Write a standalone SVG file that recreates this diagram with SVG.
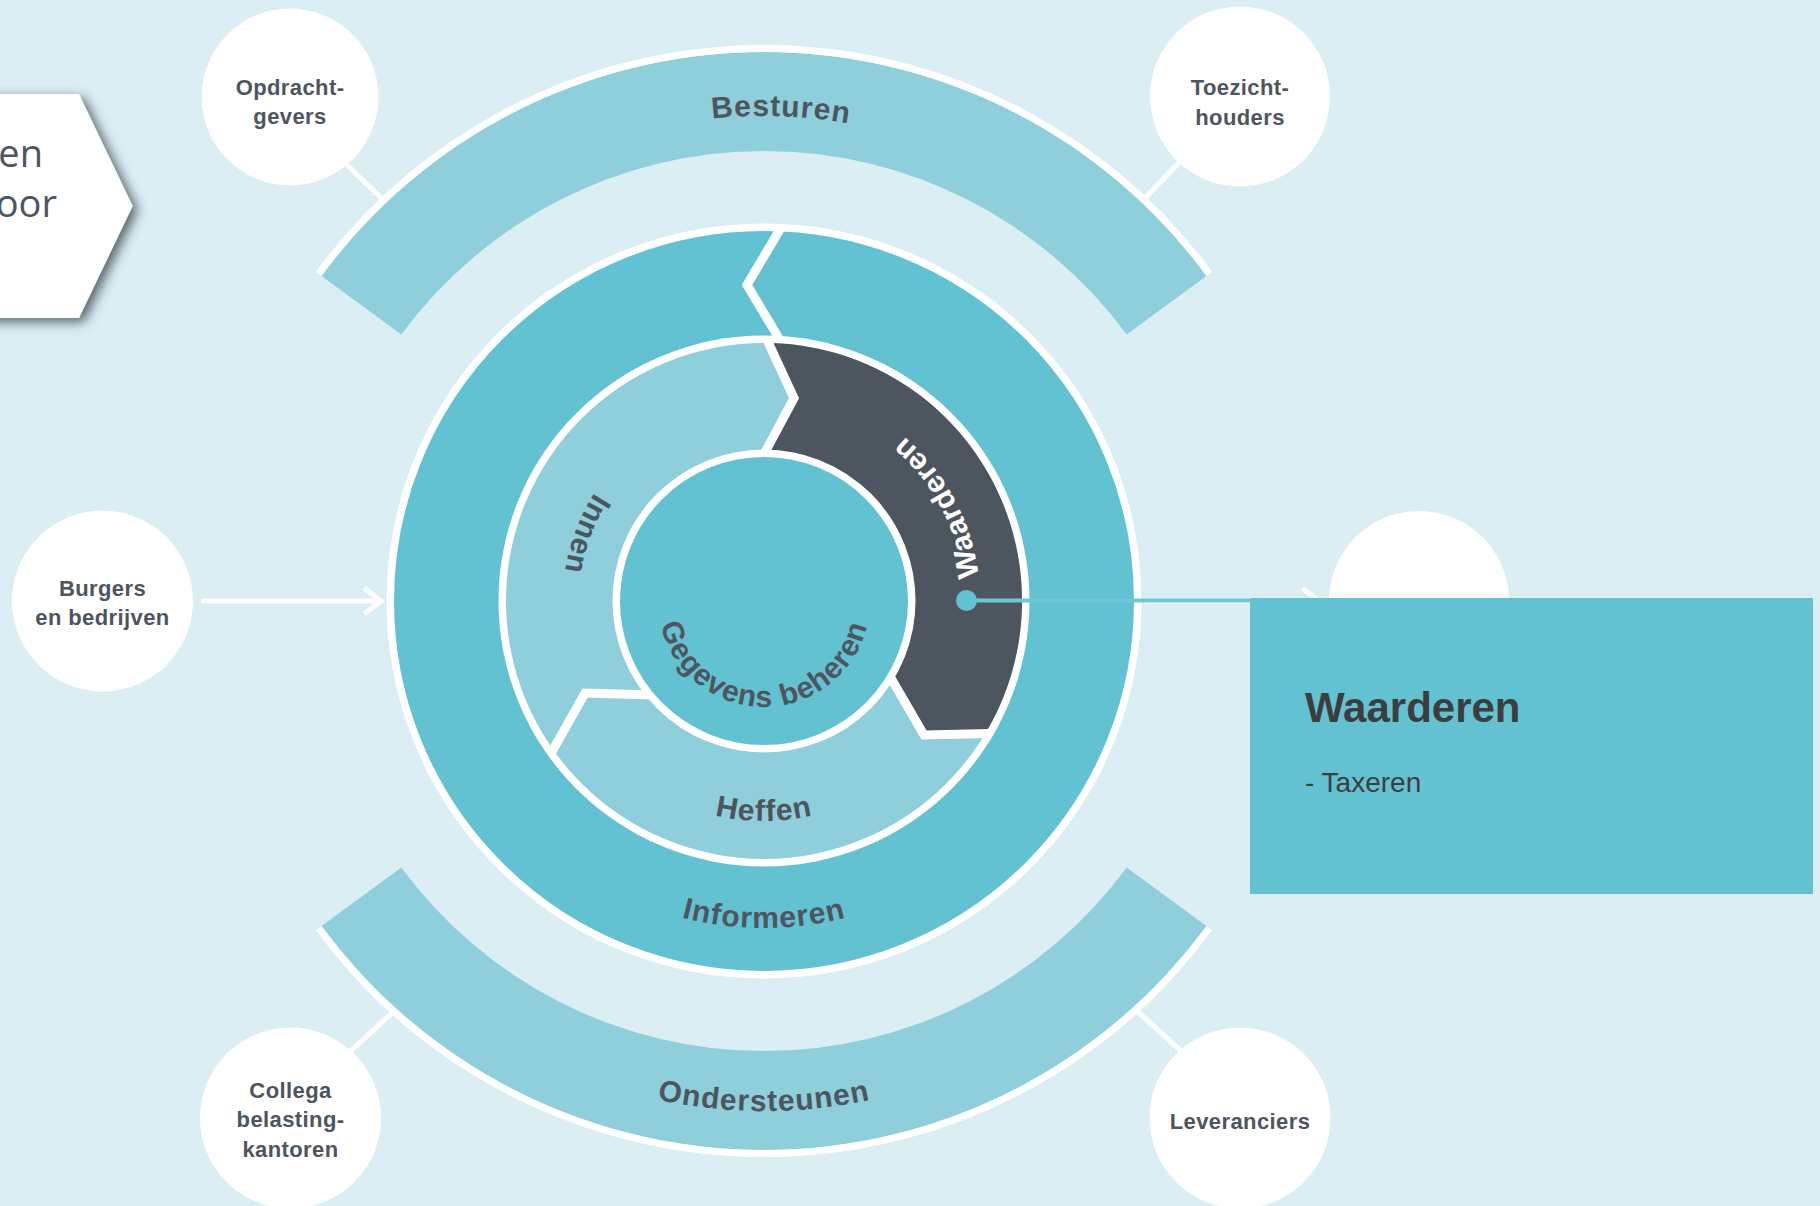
<svg xmlns="http://www.w3.org/2000/svg" width="1820" height="1206" viewBox="0 0 1820 1206">
<defs>
<style>
.bg{fill:#dbeef4}
.band{fill:#8ecfdb}
.edge{fill:none;stroke:#fff;stroke-width:7}
.conn{stroke:#fff;stroke-width:5;fill:none}
.div{fill:none;stroke:#fff;stroke-width:9;stroke-linejoin:miter}
.node circle{fill:#fff}
.node text{font-family:"Liberation Sans",Arial,sans-serif;font-weight:700;font-size:22px;fill:#4d555e;text-anchor:middle;letter-spacing:0.4px}
.lbl{font-family:"Liberation Sans",Arial,sans-serif;font-weight:700;font-size:30px;fill:#4d555e;letter-spacing:1px}
.hex{font-family:"Open Sans","Liberation Sans",sans-serif;font-size:38px;fill:#4d555e;text-anchor:end}
</style>
<filter id="shadow" x="-30%" y="-30%" width="160%" height="160%">
<feDropShadow dx="5" dy="4" stdDeviation="6" flood-color="#37424c" flood-opacity="0.8"/>
</filter>
<marker id="arrow" viewBox="0 0 26 32" refX="20" refY="16" markerWidth="26" markerHeight="32" markerUnits="userSpaceOnUse" orient="auto" overflow="visible">
<path d="M3.4 3.3 L20 16 L3.4 28.7" fill="none" stroke="#fff" stroke-width="5"/>
</marker>
<path id="pBesturen" d="M 289.6 500.2 A 485 485 0 0 1 1244.3 533.5"/>
<path id="pOnder" d="M 322.3 856 A 510 510 0 0 0 1205.7 856"/>
<path id="pInfo" d="M 480.8 764.5 A 327 327 0 0 0 1047.2 764.5"/>
<path id="pHeffen" d="M 573.5 711 A 220 220 0 0 0 954.5 711"/>
<path id="pGeg" d="M 664.4 564.7 A 106 106 0 1 0 863.6 564.7"/>
<path id="pWaard" d="M 975.4 645.2 A 216 216 0 0 0 844.2 400.4"/>
<path id="pInnen" d="M 665 426 A 201 201 0 0 0 574.5 668.1"/>
</defs>

<rect class="bg" x="0" y="0" width="1820" height="1206"/>

<g id="intro">
<polygon points="-80,94 79,94 132.7,206 79,318 -80,318" fill="#fff" filter="url(#shadow)"/>
<text class="hex" x="43" y="167">en</text>
<text class="hex" x="57" y="217">oor</text>
</g>

<g id="besturen">
<path class="band" d="M 321.6 276 A 549 549 0 0 1 1206.4 276 L 1126.7 334.6 A 450 450 0 0 0 401.3 334.6 Z"/>
<path class="edge" d="M 318.7 273.9 A 552.5 552.5 0 0 1 1209.3 273.9"/>
<text class="lbl"><textPath href="#pBesturen" startOffset="50%" text-anchor="middle">Besturen</textPath></text>
</g>

<g id="ondersteunen">
<path class="band" d="M 321.6 926 A 549 549 0 0 0 1206.4 926 L 1126.7 867.4 A 450 450 0 0 1 401.3 867.4 Z"/>
<path class="edge" d="M 318.7 928.1 A 552.5 552.5 0 0 0 1209.3 928.1"/>
<text class="lbl"><textPath href="#pOnder" startOffset="50%" text-anchor="middle">Ondersteunen</textPath></text>
</g>

<g id="informeren">
<circle cx="764" cy="601" r="373.75" fill="#63c2d1" stroke="#fff" stroke-width="7.5"/>
<polyline class="div" points="780.2,229 747,285 783,345"/>
<text class="lbl"><textPath href="#pInfo" startOffset="50%" text-anchor="middle">Informeren</textPath></text>
</g>

<g id="middle-ring">
<circle cx="764" cy="601" r="265.5" fill="#fff"/>
<circle cx="764" cy="601" r="258" fill="#8ecfdb"/>
</g>

<g id="waarderen">
<path d="M 768.4 342.9 A 258 258 0 0 1 985.3 733.5 L 924 735 L 890 676 L 762 456 L 794 398 Z" fill="#4d555e"/>
<text class="lbl" style="fill:#fff"><textPath href="#pWaard" startOffset="50%" text-anchor="middle">Waarderen</textPath></text>
</g>

<g id="innen">
<text class="lbl"><textPath href="#pInnen" startOffset="50%" text-anchor="middle">Innen</textPath></text>
</g>

<g id="heffen">
<text class="lbl"><textPath href="#pHeffen" startOffset="50%" text-anchor="middle">Heffen</textPath></text>
</g>

<g id="dividers">
<polyline class="div" points="766.2,338 794,398 762,458"/>
<polyline class="div" points="989.5,733.4 924,735 888,673"/>
<polyline class="div" points="652,695 585,693 551.5,752.5"/>
</g>

<g id="gegevens">
<circle cx="764" cy="601" r="147.75" fill="#63c2d1" stroke="#fff" stroke-width="7.5"/>
<text class="lbl"><textPath href="#pGeg" startOffset="50%" text-anchor="middle">Gegevens beheren</textPath></text>
</g>

<g id="connectors">
<line class="conn" x1="335" y1="153" x2="382" y2="199"/>
<line class="conn" x1="1189" y1="152.4" x2="1145" y2="198"/>
<line class="conn" x1="344.3" y1="1056.8" x2="391" y2="1014"/>
<line class="conn" x1="1187.5" y1="1056.8" x2="1137" y2="1011"/>
<line class="conn" x1="201" y1="601" x2="381" y2="601" marker-end="url(#arrow)"/>
<line class="conn" x1="1144" y1="601" x2="1319" y2="601" marker-end="url(#arrow)"/>
<line x1="966.5" y1="600.5" x2="1252" y2="600.5" stroke="#6ec7d5" stroke-width="4"/>
<circle cx="966.5" cy="600.5" r="10.5" fill="#63c2d1"/>
</g>

<g id="opdrachtgevers" class="node">
<circle cx="290" cy="97" r="88.5"/>
<text x="290" y="95">Opdracht-</text>
<text x="290" y="124">gevers</text>
</g>
<g id="toezichthouders" class="node">
<circle cx="1240" cy="96.5" r="90"/>
<text x="1240" y="95">Toezicht-</text>
<text x="1240" y="125">houders</text>
</g>
<g id="burgers" class="node">
<circle cx="102.5" cy="601" r="90.5"/>
<text x="102.5" y="596">Burgers</text>
<text x="102.5" y="625">en bedrijven</text>
</g>
<g id="rechts" class="node">
<circle cx="1419" cy="601" r="90"/>
</g>
<g id="collega" class="node">
<circle cx="290.5" cy="1118" r="90.5"/>
<text x="290.5" y="1098">Collega</text>
<text x="290.5" y="1127">belasting-</text>
<text x="290.5" y="1156.5">kantoren</text>
</g>
<g id="leveranciers" class="node">
<circle cx="1240" cy="1118" r="90.5"/>
<text x="1240" y="1129">Leveranciers</text>
</g>

<g id="info-box">
<rect x="1250" y="598" width="563" height="296" fill="#63c2d1"/>
<text x="1305" y="722" font-family="Liberation Sans, Arial, sans-serif" font-weight="700" font-size="42" fill="#3d3d3d">Waarderen</text>
<text x="1305" y="792" font-family="Liberation Sans, Arial, sans-serif" font-size="28" fill="#3d3d3d">- Taxeren</text>
</g>
</svg>
